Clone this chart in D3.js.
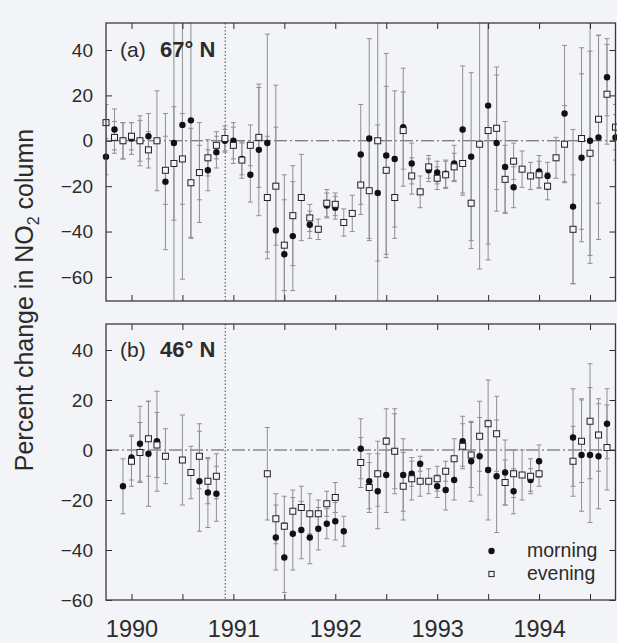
<!DOCTYPE html>
<html>
<head>
<meta charset="utf-8">
<script src="https://cdn.jsdelivr.net/npm/d3@7"></script>
<style>
  html, body { margin: 0; padding: 0; background: #f3f4f7; }
  svg { display: block; font-family: "Liberation Sans", Arial, Helvetica, sans-serif; }
</style>
</head>
<body>
<svg id="chart" width="617" height="643"></svg>
<script>
// Monthly observations, Oct 1989 – Oct 1994
const months = [
  "1989-10","1989-11","1989-12",
  "1990-01","1990-02","1990-03","1990-04","1990-05","1990-06","1990-07","1990-08","1990-09","1990-10","1990-11","1990-12",
  "1991-01","1991-02","1991-03","1991-04","1991-05","1991-06","1991-07","1991-08","1991-09","1991-10","1991-11","1991-12",
  "1992-01","1992-02","1992-03","1992-04","1992-05","1992-06","1992-07","1992-08","1992-09","1992-10","1992-11","1992-12",
  "1993-01","1993-02","1993-03","1993-04","1993-05","1993-06","1993-07","1993-08","1993-09","1993-10","1993-11","1993-12",
  "1994-01","1994-02","1994-03","1994-04","1994-05","1994-06","1994-07","1994-08","1994-09","1994-10"
];

// (a) 67° N — percent change, morning / evening, with error half-widths
const morningA = [-7,5,0,1,0,2,null,-18,-1,7,9,-14,-13,-5,0,0,-8,-15,-4,-1,-39.5,-50,-42,null,-37,null,-28.5,-29.5,null,null,
  -6,1,-23,-6.5,-8,6,-10,null,-13,-14,-14.5,-10,5,-7,null,15.5,-1,-11.5,-20.5,null,null,-13.5,-15.5,null,12,-29,-7.5,0,1.5,28,1.5];
const morningErrA = [8,9,8,7,11,10,null,30,80,68,52,22,9,7,5,8,7,12,29,48,64,35,24,null,6,null,5.5,5,null,null,
  22,44,30,45,30,26,9,null,5,5,6,8,28,37,null,68,30,20,9,null,null,7,6,null,30,34,37,54,45,17,10];
const eveningA = [8,1.5,0,2,0,-4,0,-13,-10,-8,-18.5,-14,-7.5,-2,1,-2,-8.5,-2,1.5,-25,-20,-46,-33,-25,-34,-39,-27.5,-28,-36,-32,
  -19.5,-22,0,-13,-25,4.5,-15.5,-22.5,-11.5,-16.5,-15,-11.5,-10,-27.5,-1.5,4.5,5.5,-17,-9,-12.5,-15.5,-15,-20,-7.5,-1.5,-39,1,-5.5,9.5,20.5,6];
const eveningErrA = [8,7,8,6,9,8,22,15,25,20,24,12,8,6,5.5,8,8,9,22,27,26,20,22,19,6,4.5,6,5,6,8,
  13,22,75,37,18,17,8,7,5,5,6,6,14,20,55,50,27,15,8,8,6,6,6,9,17,24,40,45,37,22,10];

// (b) 46° N
const morningB = [null,null,-14.5,-3,2.5,-1.5,3.5,null,null,null,null,-12.5,-17,-17.5,null,null,null,null,null,null,
  -35,-43,-33.5,-32,-35,-31.5,-29.5,-28.5,-32.5,null,0.5,-12.5,-16.5,-10,-0.5,-10,-9.5,-5.5,null,-14.5,
  -16,-12,3.5,-4.5,-2.5,-8,-10.5,-9,-16.5,null,-12,-4.5,null,null,null,5,-2,-2,-2.5,10.5,null];
const morningErrB = [null,null,11,9,15,21,20,null,null,null,null,20,14,11,null,null,null,null,null,null,
  13,14,14.5,11.5,10.5,8.5,6,7.5,6,null,12,11,15,15,17,14.5,5,3,null,4.5,
  8,8,10,16,15.5,20,22.5,13,9,null,4.5,6.5,null,null,null,19.5,22.5,27,21,14,null];
const eveningB = [null,null,null,-4.5,-1,4.5,2,-2.5,null,-4,-9,-2.5,-12.5,-10.5,null,null,null,null,null,-9.5,
  -27.5,-30.5,-24.5,-23,-25.5,-25.5,-21.5,-19,null,null,-5,-15,-9.5,3.5,-0.5,-14.5,-11.5,-12.5,-12.5,-11.5,
  -8.5,-3.5,1.5,-2,5.5,10.5,6.5,-13,-9.5,-10,-10.5,-9.5,null,null,null,-4.5,3.5,11.5,6,1,null];
const eveningErrB = [null,null,null,10,12,15,13,11,null,18,10.5,13,9,9,null,null,null,null,null,18.5,
  10,12,8.5,8.5,8,5.5,5,6,null,null,10,10,13,13,15,13.5,8.5,6,5,5,
  4,8,9,13,14,17.5,15,9,9.5,10,7,5,null,null,null,14,16.5,23,14.5,17,null];

const panels = [
  { tag: "(a)", lat: "67° N", morning: morningA, morningErr: morningErrA, evening: eveningA, eveningErr: eveningErrA },
  { tag: "(b)", lat: "46° N", morning: morningB, morningErr: morningErrB, evening: eveningB, eveningErr: eveningErrB }
];

const yTicks = [40, 20, 0, -20, -40, -60];
const yearLabels = [1990, 1991, 1992, 1993, 1994];
const halfYearTicks = [1990, 1990.5, 1991, 1991.5, 1992, 1992.5, 1993, 1993.5, 1994, 1994.5];
const markerDate = 1990.92;   // dotted reference line
const legendItems = ["morning", "evening"];

// ---- layout ----
const svg = d3.select("#chart");
const W = 617, H = 643;
const left = 106, right = 615.5;
const frames = [
  { top: 23, bottom: 301, domain: [-70.6, 51.9] },
  { top: 324, bottom: 600, domain: [-60, 50.4] }
];
const ink = "#2b2b2b";
const barInk = "#8f8f8f";
const bg = "#f3f4f7";
const sq = 6;

svg.append("rect").attr("width", W).attr("height", H).attr("fill", bg);

const toYear = s => { const [y, m] = s.split("-").map(Number); return y + (m - 1) / 12; };
const x = d3.scaleLinear().domain([1989.75, 1994.75]).range([left, right]);

panels.forEach((p, k) => {
  const f = frames[k];
  const y = d3.scaleLinear().domain(f.domain).range([f.bottom, f.top]);
  const g = svg.append("g");

  const clipId = "clip" + k;
  svg.append("clipPath").attr("id", clipId)
    .append("rect").attr("x", left).attr("y", f.top).attr("width", right - left).attr("height", f.bottom - f.top);

  // zero line (dash-dot)
  g.append("line")
    .attr("x1", left).attr("x2", right).attr("y1", y(0)).attr("y2", y(0))
    .attr("stroke", "#555").attr("stroke-width", 1)
    .attr("stroke-dasharray", "13,3,2,3");

  // dotted reference line
  g.append("line")
    .attr("x1", x(markerDate)).attr("x2", x(markerDate)).attr("y1", f.top).attr("y2", f.bottom)
    .attr("stroke", "#444").attr("stroke-width", 1).attr("stroke-dasharray", "1.5,2");

  // error bars for both series
  const series = [
    { v: p.morning, e: p.morningErr },
    { v: p.evening, e: p.eveningErr }
  ];
  const bars = g.append("g").attr("clip-path", `url(#${clipId})`)
    .attr("stroke", barInk).attr("stroke-width", 1).attr("fill", "none");
  series.forEach(s => {
    const rows = months.map((m, i) => ({ t: toYear(m), v: s.v[i], e: s.e[i] }))
      .filter(d => d.v != null && d.e != null);
    bars.selectAll(null).data(rows).join("line")
      .attr("x1", d => x(d.t)).attr("x2", d => x(d.t))
      .attr("y1", d => y(d.v + d.e)).attr("y2", d => y(d.v - d.e));
    [1, -1].forEach(sgn => {
      bars.selectAll(null).data(rows).join("line")
        .attr("x1", d => x(d.t) - 2.5).attr("x2", d => x(d.t) + 2.5)
        .attr("y1", d => y(d.v + sgn * d.e)).attr("y2", d => y(d.v + sgn * d.e));
    });
  });

  // morning: filled dots
  const mRows = months.map((m, i) => ({ t: toYear(m), v: p.morning[i] })).filter(d => d.v != null);
  g.append("g").selectAll("circle").data(mRows).join("circle")
    .attr("cx", d => x(d.t)).attr("cy", d => y(d.v)).attr("r", 3.2)
    .attr("fill", "#111");

  // evening: open squares
  const eRows = months.map((m, i) => ({ t: toYear(m), v: p.evening[i] })).filter(d => d.v != null);
  g.append("g").selectAll("rect").data(eRows).join("rect")
    .attr("x", d => x(d.t) - sq / 2).attr("y", d => y(d.v) - sq / 2)
    .attr("width", sq).attr("height", sq)
    .attr("fill", bg).attr("stroke", "#222").attr("stroke-width", 1);

  // axes: inward ticks on all four sides
  const axL = d3.axisLeft(y).tickValues(yTicks).tickSize(-6).tickPadding(13).tickFormat(d3.format("d"));
  g.append("g").attr("transform", `translate(${left},0)`).call(axL)
    .call(a => a.select(".domain").remove())
    .call(a => a.selectAll("line").attr("stroke", ink))
    .call(a => a.selectAll("text").attr("fill", ink).attr("font-size", 19)
      .attr("font-family", "'Liberation Sans', Arial, sans-serif"));

  const axR = d3.axisRight(y).tickValues(yTicks).tickSize(-6).tickFormat("");
  g.append("g").attr("transform", `translate(${right},0)`).call(axR)
    .call(a => a.select(".domain").remove())
    .call(a => a.selectAll("line").attr("stroke", ink));

  const axT = d3.axisTop(x).tickValues(halfYearTicks).tickSize(-6).tickFormat("");
  g.append("g").attr("transform", `translate(0,${f.top})`).call(axT)
    .call(a => a.select(".domain").remove())
    .call(a => a.selectAll("line").attr("stroke", ink));

  const axB = d3.axisBottom(x).tickValues(halfYearTicks).tickSize(-6).tickPadding(20)
    .tickFormat(d => (k === 1 && yearLabels.includes(d)) ? String(d) : "");
  g.append("g").attr("transform", `translate(0,${f.bottom})`).call(axB)
    .call(a => a.select(".domain").remove())
    .call(a => a.selectAll("line").attr("stroke", ink))
    .call(a => a.selectAll("text").attr("fill", ink).attr("font-size", 23.5)
      .attr("font-family", "'Liberation Sans', Arial, sans-serif"));

  // frame
  g.append("rect")
    .attr("x", left).attr("y", f.top).attr("width", right - left).attr("height", f.bottom - f.top)
    .attr("fill", "none").attr("stroke", "#3a3a3a").attr("stroke-width", 1.3);

  // panel label
  const lab = g.append("text").attr("x", 120).attr("y", y(40) + 7)
    .attr("fill", ink).attr("font-size", 21);
  lab.append("tspan").text(p.tag);
  lab.append("tspan").attr("x", 160).attr("font-weight", "bold").attr("font-size", 22).text(p.lat);
});

// legend in panel (b)
const legX = 491.5, legY = [551, 574];
svg.append("circle").attr("cx", legX).attr("cy", legY[0]).attr("r", 3.2).attr("fill", "#111");
svg.append("rect").attr("x", legX - 2.6).attr("y", legY[1] - 2.6).attr("width", 5.2).attr("height", 5.2)
  .attr("fill", bg).attr("stroke", "#222").attr("stroke-width", 1);
legendItems.forEach((t, i) => {
  svg.append("text").attr("x", 527).attr("y", legY[i] + 6)
    .attr("fill", ink).attr("font-size", 19.5).text(t);
});

// y-axis title
const title = svg.append("text")
  .attr("transform", "translate(33,300) rotate(-90)")
  .attr("text-anchor", "middle").attr("fill", ink).attr("font-size", 25);
title.append("tspan").text("Percent change in NO");
title.append("tspan").attr("font-size", 16).attr("dy", 6).text("2");
title.append("tspan").attr("dy", -6).text(" column");
</script>
</body>
</html>
